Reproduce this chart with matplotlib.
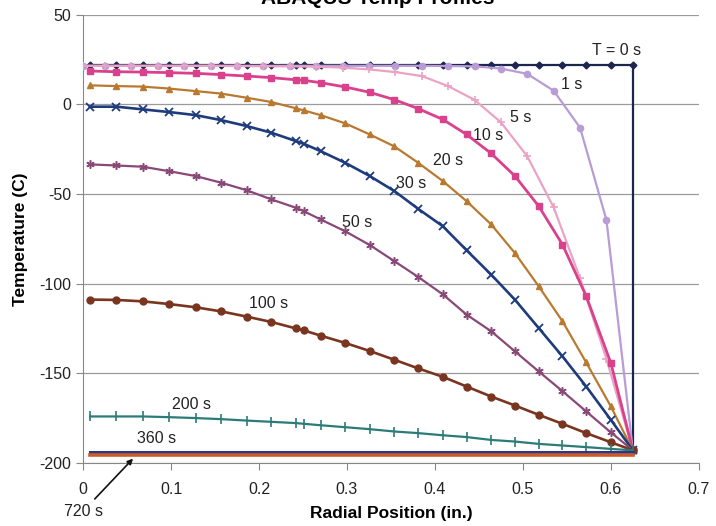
import numpy as np
import matplotlib
matplotlib.use("Agg")
import matplotlib.pyplot as plt

plt.rcParams['font.family'] = ['Liberation Sans', 'DejaVu Sans']
plt.rcParams['axes.unicode_minus'] = False

# radial node positions (in.) for most of the time steps
x_nodes = [0.008, 0.038, 0.068, 0.098, 0.128, 0.157, 0.186, 0.214, 0.242, 0.251,
           0.270, 0.298, 0.326, 0.354, 0.381, 0.409, 0.436, 0.464, 0.491, 0.518,
           0.545, 0.572, 0.600, 0.625]
# the 1 s and 5 s curves sit on a slightly different grid
x_early = [0.0, 0.025, 0.055, 0.085, 0.115, 0.145, 0.175, 0.205, 0.235, 0.265, 0.295,
           0.325, 0.355, 0.385, 0.415, 0.445, 0.475, 0.505, 0.535, 0.565, 0.595, 0.625]

t0_temp = [22.0] * 24
t0_wall = -193.0
t1_temp = [21.5, 21.5, 21.5, 21.5, 21.5, 21.5, 21.5, 21.5, 21.5, 21.5, 21.5,
           21.5, 21.5, 21.5, 21.4, 21.2, 20.0, 17.0, 7.6, -13.0, -64.5, -193.0]
t5_temp = [21.5, 21.5, 21.5, 21.5, 21.5, 21.5, 21.4, 21.3, 21.2, 21.0, 20.5,
           19.5, 18.0, 15.8, 10.2, 2.5, -10.0, -29.0, -57.5, -97.0, -142.0, -193.0]
t10_temp = [18.6, 18.2, 18.0, 17.7, 17.3, 16.6, 15.8, 14.9, 13.7, 13.4, 12.1, 9.7,
            6.7, 2.6, -2.4, -8.4, -16.8, -27.4, -40.0, -56.8, -78.2, -107.0, -144.3, -193.0]
t20_temp = [10.6, 10.2, 9.9, 8.8, 7.4, 6.0, 3.7, 1.3, -2.2, -3.4, -6.0, -10.6,
            -16.8, -23.5, -32.6, -42.8, -54.0, -67.0, -83.0, -101.5, -121.0, -144.0, -168.5, -193.0]
t30_temp = [-1.3, -1.3, -2.8, -4.3, -6.0, -8.8, -12.1, -15.8, -20.5, -22.0, -26.1, -32.6,
            -40.0, -48.4, -58.3, -68.0, -81.4, -95.0, -109.0, -124.8, -140.6, -157.4, -176.0, -193.0]
t50_temp = [-33.5, -34.1, -34.8, -37.3, -40.0, -43.7, -47.9, -53.0, -57.7, -59.6, -64.2, -70.8,
            -78.5, -87.5, -96.3, -106.0, -117.3, -126.6, -137.8, -149.0, -160.0, -171.3, -183.0, -193.0]
t100_temp = [-108.9, -109.1, -109.9, -111.4, -113.2, -115.5, -118.4, -121.4, -125.0, -126.1,
             -129.0, -133.1, -137.6, -142.5, -147.3, -152.0, -157.4, -163.0, -168.0, -173.2,
             -178.2, -183.4, -188.5, -193.0]
t200_temp = [-174.1, -174.1, -174.1, -174.5, -175.0, -175.6, -176.4, -177.1, -177.8, -178.2,
             -179.0, -180.1, -181.2, -182.5, -183.4, -184.6, -185.6, -187.2, -188.1, -189.4,
             -190.3, -191.2, -192.2, -193.0]
t360_temp = [-193.7] * 24
t720_temp = [-195.8] * 24

x_ticks = [0, 0.1, 0.2, 0.3, 0.4, 0.5, 0.6, 0.7]
y_ticks = [-200, -150, -100, -50, 0, 50]

fig = plt.figure(figsize=(7.16, 5.26), dpi=100)
ax = fig.add_axes([0.116, 0.12, 0.860, 0.852])

lw = 1.6
ax.plot(x_nodes + [0.625], t0_temp + [t0_wall], color='#1c2550', lw=lw, marker='D', ms=3.5, zorder=3)
ax.plot(x_early, t1_temp, color='#b99bd6', lw=lw, marker='o', ms=4.5, zorder=4)
ax.plot(x_early, t5_temp, color='#eba3c4', lw=lw, marker='+', ms=6, mew=1.2, zorder=4)
ax.plot(x_nodes, t10_temp, color='#d9418c', lw=lw + 0.4, marker='s', ms=5, zorder=4)
ax.plot(x_nodes, t20_temp, color='#b97a30', lw=lw, marker='^', ms=5, zorder=4)
ax.plot(x_nodes, t30_temp, color='#1e3b7c', lw=lw + 0.3, marker='x', ms=6, mew=1.3, zorder=4)
ax.plot(x_nodes, t50_temp, color='#8a4878', lw=lw, marker=(6, 2, 0), ms=6, mew=1.1, zorder=4)
ax.plot(x_nodes, t100_temp, color='#7a3520', lw=lw + 0.3, marker='o', ms=5, zorder=4)
ax.plot(x_nodes, t200_temp, color='#2b7c78', lw=lw, marker='|', ms=7, mew=1.2, zorder=4)
ax.plot(x_nodes, t360_temp, color='#27388c', lw=2.2, zorder=4)
ax.plot(x_nodes, t720_temp, color='#cc5a2a', lw=2.6, zorder=4)

# curve labels
label_style = dict(fontsize=11.5, ha='center', va='center', color='#222222')
ax.text(0.606, 30.2, 'T = 0 s', **label_style)
ax.text(0.556, 11.2, '1 s', **label_style)
ax.text(0.497, -7.3, '5 s', **label_style)
ax.text(0.460, -17.3, '10 s', **label_style)
ax.text(0.415, -31.3, '20 s', **label_style)
ax.text(0.373, -44.0, '30 s', **label_style)
ax.text(0.311, -66.0, '50 s', **label_style)
ax.text(0.211, -111.0, '100 s', **label_style)
ax.text(0.123, -167.6, '200 s', **label_style)
ax.text(0.084, -186.6, '360 s', **label_style)
ax.annotate('720 s', xy=(0.059, -196.5), xytext=(0.0, -227.0),
            fontsize=11.5, ha='center', va='center', color='#222222',
            arrowprops=dict(arrowstyle='-|>', color='#111111', lw=1.2, mutation_scale=8),
            annotation_clip=False)

ax.set_xlim(0, 0.7)
ax.set_ylim(-200, 50)
ax.set_xticks(x_ticks)
ax.set_xticklabels(['0', '0.1', '0.2', '0.3', '0.4', '0.5', '0.6', '0.7'])
ax.set_yticks(y_ticks)
ax.tick_params(labelsize=11.5, colors='#222222', length=5, color='#888888')
ax.tick_params(axis='x', pad=9)
ax.grid(axis='y', color='#9a9a9a', lw=0.9)
ax.set_axisbelow(True)
for s in ['top', 'right']:
    ax.spines[s].set_visible(False)
for s in ['left', 'bottom']:
    ax.spines[s].set_color('#888888')

ax.set_xlabel('Radial Position (in.)', fontsize=12.5, fontweight='bold', labelpad=6)
ax.set_ylabel('Temperature (C)', fontsize=12.5, fontweight='bold', labelpad=8)

# title sits mostly above the top edge, as in the scanned original
fig.text(0.527, 0.993, 'ABAQUS Temp Profiles', fontsize=15, fontweight='bold',
         ha='center', va='baseline')

fig.savefig('out.png', dpi=100)
